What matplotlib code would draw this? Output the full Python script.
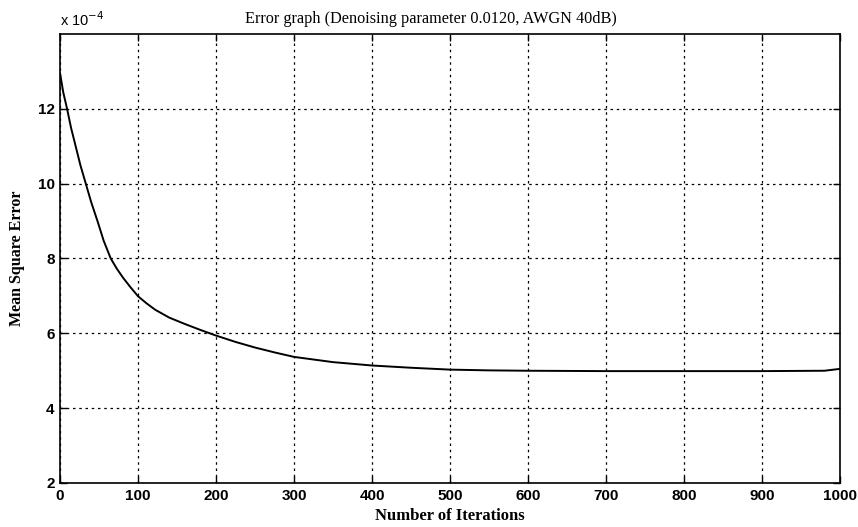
import numpy as np
import matplotlib.pyplot as plt

# MSE per iteration, in units of 1e-4
iterations = [0, 4, 9, 14, 20, 26, 33, 40, 48, 56, 65, 73, 81, 90, 100, 111,
              122, 140, 160, 180, 200, 225, 250, 275, 300, 350, 400, 450, 500,
              550, 600, 700, 800, 900, 980, 1000]
mse_e4 = [12.95, 12.45, 12.0, 11.5, 11.0, 10.5, 10.0, 9.5, 9.0, 8.47, 8.0,
          7.72, 7.48, 7.24, 6.99, 6.8, 6.63, 6.42, 6.25, 6.09, 5.94, 5.77,
          5.62, 5.49, 5.37, 5.23, 5.14, 5.08, 5.03, 5.01, 5.0, 4.99, 4.99,
          4.99, 5.0, 5.05]

xticks = np.arange(0, 1001, 100)
yticks = [2, 4, 6, 8, 10, 12]

SERIF = ['Liberation Serif', 'DejaVu Serif']
SANS = ['Liberation Sans', 'DejaVu Sans']

fig = plt.figure(figsize=(8.58, 5.27), dpi=100)
ax = fig.add_axes([0.070, 0.0835, 0.909, 0.852])

ax.plot(iterations, mse_e4, color='black', lw=1.4)

ax.set_xlim(0, 1000)
ax.set_ylim(2, 14)
ax.set_xticks(xticks)
ax.set_yticks(yticks)
ax.grid(True, color='black', linestyle=(0, (2, 3)), linewidth=0.9)

ax.tick_params(direction='in', length=5, width=1, top=True, right=True,
               labelsize=11, pad=4)
for lbl in ax.get_xticklabels() + ax.get_yticklabels():
    lbl.set_family(SANS)
    lbl.set_fontweight('bold')
for sp in ax.spines.values():
    sp.set_linewidth(1.2)

ax.set_title('Error graph (Denoising parameter 0.0120, AWGN 40dB)',
             family=SERIF, fontsize=11.7, pad=8, x=0.476)
ax.set_xlabel('Number of Iterations', family=SERIF, fontsize=12,
              fontweight='bold', labelpad=4)
ax.set_ylabel('Mean Square Error', family=SERIF, fontsize=11.5,
              fontweight='bold', labelpad=9)
ax.text(0.0, 1.012, r'x 10$^{-4}$', transform=ax.transAxes, family=SANS,
        fontsize=10.5, ha='left', va='bottom')

fig.savefig('out.png', dpi=100)
